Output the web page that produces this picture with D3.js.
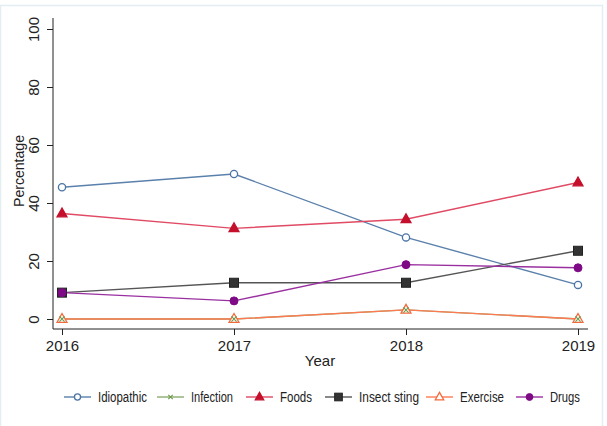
<!DOCTYPE html>
<html><head><meta charset="utf-8">
<script src="https://cdn.jsdelivr.net/npm/d3@7"></script>
<style>
body{margin:0;background:#fff;}
text{font-family:"Liberation Sans",Arial,sans-serif;fill:#222;}
</style></head>
<body><svg id="c" width="607" height="426"></svg>
<script>
const years = [2016, 2017, 2018, 2019];
const yTicks = [0, 20, 40, 60, 80, 100];
const seriesNames = ["Idiopathic", "Infection", "Foods", "Insect sting", "Exercise", "Drugs"];
const idiopathic = [45.45, 50.00, 28.13, 11.76];
const infection = [0, 0, 3.13, 0];
const foods = [36.36, 31.25, 34.38, 47.06];
const insectSting = [9.09, 12.50, 12.50, 23.53];
const exercise = [0, 0, 3.13, 0];
const drugs = [9.09, 6.25, 18.75, 17.65];

const styles = [
  {line:"#5a80ab", fill:"#fff", stroke:"#4a74a4", sym:"circle"},
  {line:"#8aac6c", fill:"none", stroke:"#6a9a4a", sym:"x"},
  {line:"#e04a64", fill:"#c4102c", stroke:"#c4102c", sym:"triangle"},
  {line:"#555555", fill:"#333333", stroke:"#222222", sym:"square"},
  {line:"#ff7a52", fill:"#fff", stroke:"#f46a3c", sym:"triangleO"},
  {line:"#9a30a0", fill:"#7e0a86", stroke:"#7e0a86", sym:"dot"}
];
const data = [idiopathic, infection, foods, insectSting, exercise, drugs];

const svg = d3.select("#c");
svg.append("rect").attr("x",0.5).attr("y",5.5).attr("width",602).attr("height",430)
  .attr("fill","none").attr("stroke","#e4edf2").attr("stroke-width",1.5);

const x = d3.scaleLinear().domain([2016,2019]).range([62,578]);
const y = d3.scaleLinear().domain([0,100]).range([319,29]);

// axes
const xAxis = svg.append("g").attr("transform","translate(0,329)")
  .call(d3.axisBottom(x).tickValues(years).tickFormat(d3.format("d")).tickSizeOuter(0).tickSize(6));
xAxis.select(".domain").attr("d","M53,0H588").attr("stroke","#222");
xAxis.selectAll(".tick line").attr("stroke","#222");
xAxis.selectAll(".tick text").attr("dy",0).attr("y",22).style("font-size","15px");

const yAxis = svg.append("g").attr("transform","translate(53,0)")
  .call(d3.axisLeft(y).tickValues(yTicks).tickSizeOuter(0).tickSize(6));
yAxis.select(".domain").attr("d","M0,18V329").attr("stroke","#222");
yAxis.selectAll(".tick line").attr("stroke","#222");
yAxis.selectAll(".tick text").attr("x",0).attr("dy",0)
  .attr("transform","translate(-14,0) rotate(-90)")
  .attr("text-anchor","middle").style("font-size","15px");

svg.append("text").attr("x",320).attr("y",366).attr("text-anchor","middle")
  .style("font-size","15px").text("Year");
svg.append("text").attr("transform","translate(24,171) rotate(-90)").attr("text-anchor","middle")
  .attr("textLength",72).attr("lengthAdjust","spacingAndGlyphs")
  .style("font-size","15px").text("Percentage");

function drawSym(g, st, cx, cy, s){
  if(st.sym==="circle"){
    g.append("circle").attr("cx",cx).attr("cy",cy).attr("r",3.6*s).attr("fill",st.fill).attr("stroke",st.stroke).attr("stroke-width",1.3);
  } else if(st.sym==="dot"){
    g.append("circle").attr("cx",cx).attr("cy",cy).attr("r",4*s).attr("fill",st.fill).attr("stroke",st.stroke);
  } else if(st.sym==="square"){
    const h=4.5*s;
    g.append("rect").attr("x",cx-h).attr("y",cy-h).attr("width",2*h).attr("height",2*h).attr("fill",st.fill).attr("stroke",st.stroke);
  } else if(st.sym==="triangle"||st.sym==="triangleO"){
    const r=5.5*s;
    const p=[[cx,cy-r],[cx+r*0.9,cy+r*0.6],[cx-r*0.9,cy+r*0.6]];
    g.append("path").attr("d","M"+p.join("L")+"Z").attr("fill",st.fill).attr("stroke",st.stroke).attr("stroke-width",1.3);
  } else if(st.sym==="x"){
    const h=2.6*s;
    g.append("path").attr("d",`M${cx-h},${cy-h}L${cx+h},${cy+h}M${cx-h},${cy+h}L${cx+h},${cy-h}`).attr("stroke",st.stroke).attr("stroke-width",1.1);
  }
}

const line = d3.line().x((d,i)=>x(years[i])).y(d=>y(d));
const g = svg.append("g");
const order = [1,0,2,3,5,4];
order.forEach(k=>{
  g.append("path").datum(data[k]).attr("d",line).attr("fill","none")
    .attr("stroke",styles[k].line).attr("stroke-width",1.4);
});
[0,2,3,5,4,1].forEach(k=>{
  data[k].forEach((v,i)=>drawSym(g, styles[k], x(years[i]), y(v), 1));
});

// legend
const legX = [64, 157, 246, 325, 426, 516];
const legW = [49, 42, 32, 60, 44, 30];
const lg = svg.append("g");
seriesNames.forEach((n,k)=>{
  const x0 = legX[k];
  lg.append("line").attr("x1",x0).attr("x2",x0+27).attr("y1",397).attr("y2",397)
    .attr("stroke",styles[k].line).attr("stroke-width",1.4);
  drawSym(lg, styles[k], x0+13.5, 397, 0.85);
  lg.append("text").attr("x",x0+34).attr("y",402)
    .attr("textLength",legW[k]).attr("lengthAdjust","spacingAndGlyphs")
    .style("font-size","14px").text(n);
});
</script></body></html>
